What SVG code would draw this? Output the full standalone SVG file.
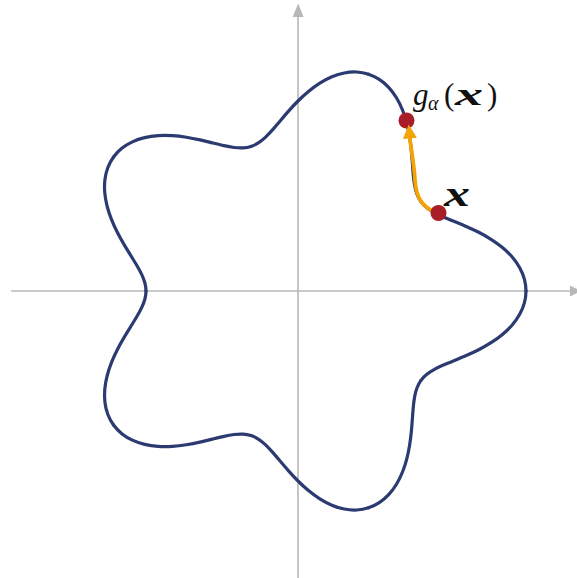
<svg xmlns="http://www.w3.org/2000/svg" xmlns:xlink="http://www.w3.org/1999/xlink" width="577" height="578" viewBox="0 0 577 578">
  <style>
    .axis { stroke: #b8b8b8; stroke-width: 1.6; fill: none; }
    .axhead { fill: #b8b8b8; stroke: none; }
    .curve { stroke: #2b3a70; stroke-width: 3.2; fill: none; stroke-linecap: round; stroke-linejoin: round; }
    .dot { fill: #a81e28; }
    .flow { stroke: #f5a300; stroke-width: 3.8; fill: none; }
    .math { font-family: "Liberation Serif", "DejaVu Serif", serif; fill: #111; }
  </style>
  <defs>
    <path id="seg" d="M228,0 C228,3.98 227.45,7.96 226.39,11.87 C225.33,15.78 223.75,19.60 221.69,23.30 C219.63,27.00 217.11,30.56 214.20,33.93 C211.29,37.30 208.00,40.48 204.43,43.45 C200.86,46.42 197.02,49.18 193.02,51.72 C189.02,54.26 184.88,56.58 180.70,58.71 C176.52,60.84 172.32,62.78 168.20,64.57 C164.08,66.36 160.06,67.99 156.22,69.55 C152.38,71.11 148.73,72.59 145.35,74.06 C141.97,75.53 138.85,77.01 136.04,78.55 C133.23,80.10 130.75,81.71 128.57,83.49 C126.39,85.27 124.53,87.19 122.97,89.34"/>
    <marker id="ah" viewBox="0 0 10 10" refX="1" refY="5" markerUnits="userSpaceOnUse" markerWidth="16" markerHeight="14" orient="auto">
      <path d="M0,0 L10,5 L0,10 z" fill="#f5a300"/>
    </marker>
  </defs>

  <g id="axes">
    <line class="axis" x1="11" y1="291" x2="571" y2="291"/>
    <polygon class="axhead" points="570,285.5 581,291 570,296.5"/>
    <line class="axis" x1="298" y1="578" x2="298" y2="16"/>
    <polygon class="axhead" points="292.6,17 298.2,3.5 303.6,17"/>
  </g>

  <g id="curve" class="curve" transform="translate(298,291) scale(1,-1)">
    <use xlink:href="#seg"/>
    <use xlink:href="#seg" transform="scale(1,-1)"/>
    <use xlink:href="#seg" transform="rotate(72)"/>
    <use xlink:href="#seg" transform="rotate(72) scale(1,-1)"/>
    <use xlink:href="#seg" transform="rotate(144)"/>
    <use xlink:href="#seg" transform="rotate(144) scale(1,-1)"/>
    <use xlink:href="#seg" transform="rotate(216)"/>
    <use xlink:href="#seg" transform="rotate(216) scale(1,-1)"/>
    <use xlink:href="#seg" transform="rotate(288)"/>
    <use xlink:href="#seg" transform="rotate(288) scale(1,-1)"/>
  </g>

  <g id="node-gx">
    <circle class="dot" cx="406.5" cy="120.5" r="8"/>
  </g>

  <g id="connectors">
    <path class="flow" d="M437,213 C421,207 416,196 415,180 C414,163 411,150 409.8,137" marker-end="url(#ah)"/>
  </g>

  <g id="node-x">
    <circle class="dot" cx="438.5" cy="213" r="8"/>
  </g>

  <g id="labels">
    <text class="math" y="105" font-size="31"><tspan x="413" font-style="italic">g</tspan><tspan x="428" y="110" font-style="italic" font-size="20">α</tspan><tspan x="444" y="105">(</tspan><tspan x="455" font-style="italic" font-weight="bold" textLength="28" lengthAdjust="spacingAndGlyphs">x</tspan><tspan x="487">)</tspan></text>
    <text class="math" x="444" y="206" font-size="36" font-style="italic" font-weight="bold" textLength="26" lengthAdjust="spacingAndGlyphs">x</text>
  </g>
</svg>
